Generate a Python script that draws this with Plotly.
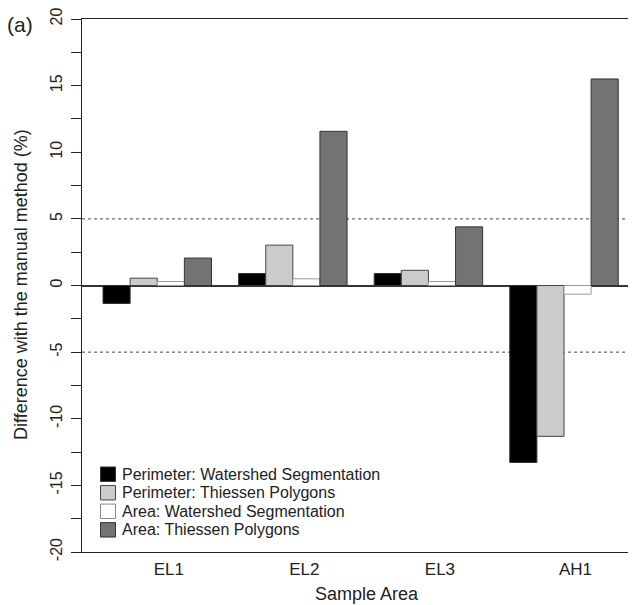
import plotly.graph_objects as go

# ---- data ----
categories = ["EL1", "EL2", "EL3", "AH1"]
series_names = [
    "Perimeter: Watershed Segmentation",
    "Perimeter: Thiessen Polygons",
    "Area: Watershed Segmentation",
    "Area: Thiessen Polygons",
]
perim_watershed = [-1.35, 0.9, 0.9, -13.28]
perim_thiessen = [0.55, 3.03, 1.14, -11.32]
area_watershed = [0.3, 0.5, 0.3, -0.65]
area_thiessen = [2.06, 11.57, 4.4, 15.5]
y_tick_values = [-20, -17.5, -15, -12.5, -10, -7.5, -5, -2.5, 0, 2.5, 5, 7.5, 10, 12.5, 15, 17.5, 20]
y_tick_text = ["-20", "", "-15", "", "-10", "", "-5", "", "0", "", "5", "", "10", "", "15", "", "20"]
threshold_lines = [5, -5]

# ---- styling ----
series_values = [perim_watershed, perim_thiessen, area_watershed, area_thiessen]
fill_colors = ["#000000", "#cbcbcb", "#ffffff", "#737373"]
edge_colors = ["#333333", "#444444", "#9a9a9a", "#333333"]
FONT = "Liberation Sans, Arial, sans-serif"
TXT = "#222222"

# page has an 8px body margin; compensate so page coordinates match target
OFF = 8
PAGE_W, PAGE_H = 636, 605
W, H = PAGE_W - OFF, PAGE_H - OFF
PLOT_L, PLOT_R, PLOT_T, PLOT_B = 82, 636, 16, 552   # page pixel coordinates
ML, MR, MT, MB = PLOT_L - OFF, PAGE_W - PLOT_R, PLOT_T - OFF, PAGE_H - PLOT_B
PW, PH = PLOT_R - PLOT_L, PLOT_B - PLOT_T

x_pos = list(range(len(categories)))
label_shift = 0.085

fig = go.Figure()
for name, vals, fc, ec in zip(series_names, series_values, fill_colors, edge_colors):
    fig.add_trace(go.Bar(
        x=x_pos, y=vals, name=name, showlegend=False,
        marker=dict(color=fc, line=dict(color=ec, width=1)),
    ))

# threshold dashed lines
for yv in threshold_lines:
    fig.add_shape(type="line", xref="paper", yref="y", x0=0, x1=1, y0=yv, y1=yv,
                  line=dict(color="#444444", width=1, dash="dot"), layer="below")

def px_to_paper_x(px):
    return (px - PLOT_L) / PW

def px_to_paper_y(py):
    return (PLOT_B - py) / PH

# manual legend
leg_top = 466.5
leg_step = 18.65
sw_h = 14.5
for i, (name, fc, ec) in enumerate(zip(series_names, fill_colors, edge_colors)):
    yc = leg_top + sw_h / 2 + i * leg_step
    fig.add_shape(type="rect", xref="paper", yref="paper",
                  x0=px_to_paper_x(100.5), x1=px_to_paper_x(115.5),
                  y0=px_to_paper_y(yc - sw_h / 2), y1=px_to_paper_y(yc + sw_h / 2),
                  fillcolor=fc, line=dict(color=ec if fc != "#ffffff" else "#888888", width=1))
    fig.add_annotation(x=px_to_paper_x(119.5), y=px_to_paper_y(yc), xref="paper", yref="paper",
                       text=name, showarrow=False, xanchor="left", yanchor="middle",
                       font=dict(family=FONT, size=16, color=TXT))

# axis titles and panel label
fig.add_annotation(x=px_to_paper_x(367), y=px_to_paper_y(594), xref="paper", yref="paper",
                   text="Sample Area", showarrow=False, xanchor="center", yanchor="middle",
                   font=dict(family=FONT, size=18, color=TXT))
fig.add_annotation(x=px_to_paper_x(21), y=px_to_paper_y(283.5), xref="paper", yref="paper",
                   text="Difference with the manual method (%)", showarrow=False, textangle=-90,
                   xanchor="center", yanchor="middle",
                   font=dict(family=FONT, size=18, color=TXT))
fig.add_annotation(x=px_to_paper_x(20), y=px_to_paper_y(21.5), xref="paper", yref="paper",
                   text="(a)", showarrow=False, xanchor="center", yanchor="middle",
                   font=dict(family=FONT, size=21, color=TXT))

fig.update_layout(
    width=W, height=H,
    margin=dict(l=ML, r=MR, t=MT, b=MB, pad=0),
    paper_bgcolor="white", plot_bgcolor="white",
    barmode="group", bargap=0.2, bargroupgap=0,
    font=dict(family=FONT, size=16, color=TXT),
    xaxis=dict(
        range=[-0.555, 3.531],
        tickmode="array", tickvals=[p + label_shift for p in x_pos], ticktext=categories,
        ticks="", showgrid=False, zeroline=False,
        showline=True, linecolor="#222222", linewidth=1.3, mirror=True,
        tickfont=dict(family=FONT, size=17, color=TXT),
        ticklabelstandoff=1,
    ),
    yaxis=dict(
        range=[-20, 20],
        tickmode="array", tickvals=y_tick_values, ticktext=y_tick_text,
        ticks="outside", ticklen=10, tickwidth=1, tickcolor="#222222",
        tickangle=-90, ticklabeloverflow="allow",
        showgrid=False,
        zeroline=True, zerolinecolor="#333333", zerolinewidth=1.5,
        showline=True, linecolor="#222222", linewidth=1.3, mirror=False,
        tickfont=dict(family=FONT, size=16, color=TXT),
        ticklabelstandoff=2,
    ),
)

fig.write_html("out.html")
